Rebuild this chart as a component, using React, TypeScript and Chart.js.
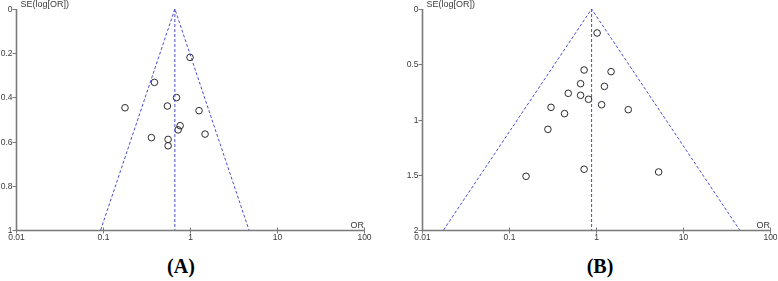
import React, { useEffect, useRef } from "react";
import { Chart, registerables } from "chart.js";

Chart.register(...registerables);

// ---------- data ----------
const xTickValues = [0.01, 0.1, 1, 10, 100];
const xTickLabels = ["0.01", "0.1", "1", "10", "100"];

const orA = [1.0, 0.39, 0.7, 0.179, 0.55, 1.27, 0.77, 0.73, 1.49, 0.36, 0.56, 0.56];
const seA = [0.219, 0.332, 0.401, 0.447, 0.439, 0.46, 0.528, 0.547, 0.566, 0.582, 0.59, 0.619];
const funnelOrA = [0.094, 0.67, 4.76];
const funnelSeA = [1, 0, 1];
const pooledOrA = 0.67;
const yTickValuesA = [0, 0.2, 0.4, 0.6, 0.8, 1];
const yTickLabelsA = ["0", "0.2", "0.4", "0.6", "0.8", "1"];

const orB = [1.03, 0.73, 1.49, 0.665, 1.25, 0.48, 0.665, 0.82, 1.16, 0.304, 2.35, 0.435, 0.28, 0.73, 5.25, 0.157];
const seB = [0.217, 0.552, 0.567, 0.676, 0.7, 0.763, 0.781, 0.817, 0.866, 0.89, 0.911, 0.947, 1.089, 1.45, 1.475, 1.514];
const funnelOrB = [0.0177, 0.89, 44.8];
const funnelSeB = [2, 0, 2];
const pooledOrB = 0.89;
const yTickValuesB = [0, 0.5, 1, 1.5, 2];
const yTickLabelsB = ["0", "0.5", "1", "1.5", "2"];

const yTitle = "SE(log[OR])";
const xTitle = "OR";

// ---------- styling ----------
const AXIS_COLOR = "#7a7a7a";
const TEXT_COLOR = "#3a3a3a";
const FUNNEL_COLOR = "#4b4bd2";
const FONT = "'Liberation Sans', Arial, sans-serif";

const axesPlugin = {
  id: "funnelAxes",
  afterDraw(chart: any, _args: any, opts: any) {
    const { ctx, chartArea: a, scales } = chart;
    const x = scales.x;
    const y = scales.y;
    ctx.save();
    ctx.strokeStyle = AXIS_COLOR;
    ctx.lineWidth = 1.6;
    const ax = Math.round(a.left) + 0.5;
    const ay = Math.round(a.bottom) + 0.5;
    ctx.beginPath();
    ctx.moveTo(ax, a.top);
    ctx.lineTo(ax, ay);
    ctx.lineTo(a.right, ay);
    ctx.stroke();

    ctx.lineWidth = 1;
    ctx.fillStyle = TEXT_COLOR;
    ctx.font = `8.5px ${FONT}`;
    ctx.textAlign = "right";
    ctx.textBaseline = "middle";
    opts.yTicks.forEach((v: number, i: number) => {
      const py = Math.round(y.getPixelForValue(v)) + 0.5;
      ctx.beginPath();
      ctx.moveTo(ax - 4, py);
      ctx.lineTo(ax, py);
      ctx.stroke();
      ctx.fillText(opts.yLabels[i], ax - 4, py);
    });
    ctx.textAlign = "center";
    ctx.textBaseline = "middle";
    opts.xTicks.forEach((v: number, i: number) => {
      const px = Math.round(x.getPixelForValue(v)) + 0.5;
      ctx.beginPath();
      ctx.moveTo(px, ay - 3);
      ctx.lineTo(px, ay + 3);
      ctx.stroke();
      ctx.fillText(opts.xLabels[i], px, ay + 7.5);
    });
    ctx.font = `9px ${FONT}`;
    ctx.textAlign = "left";
    ctx.textBaseline = "middle";
    ctx.fillText(opts.yTitle, ax + 4, a.top - 4);
    ctx.textAlign = "right";
    ctx.fillText(opts.xTitle, a.right, ay - 5);
    ctx.restore();
  },
};

type PanelProps = {
  or: number[];
  se: number[];
  funnelOr: number[];
  funnelSe: number[];
  pooled: number;
  yMax: number;
  yTicks: number[];
  yLabels: string[];
  padding: { left: number; right: number; top: number; bottom: number };
  width: number;
  height: number;
};

function FunnelPanel(p: PanelProps) {
  const ref = useRef<HTMLCanvasElement>(null);
  useEffect(() => {
    if (!ref.current) return;
    const points = p.or.map((v, i) => ({ x: v, y: p.se[i] }));
    const funnel = p.funnelOr.map((v, i) => ({ x: v, y: p.funnelSe[i] }));
    const vertical = [
      { x: p.pooled, y: 0 },
      { x: p.pooled, y: p.yMax },
    ];
    const chart = new Chart(ref.current, {
      type: "scatter",
      data: {
        datasets: [
          {
            data: funnel,
            showLine: true,
            borderColor: FUNNEL_COLOR,
            borderWidth: 1,
            borderDash: [3, 2],
            pointRadius: 0,
            fill: false,
          },
          {
            data: vertical,
            showLine: true,
            borderColor: FUNNEL_COLOR,
            borderWidth: 1,
            borderDash: [3, 2],
            pointRadius: 0,
            fill: false,
          },
          {
            data: points,
            showLine: false,
            pointStyle: "circle",
            pointRadius: 3.3,
            borderWidth: 1,
            borderColor: "#2a2a2a",
            backgroundColor: "rgba(0,0,0,0)",
          },
        ],
      } as any,
      options: {
        animation: false,
        responsive: false,
        maintainAspectRatio: false,
        devicePixelRatio: 1,
        layout: { padding: p.padding },
        plugins: {
          legend: { display: false },
          tooltip: { enabled: false },
          funnelAxes: {
            yTicks: p.yTicks,
            yLabels: p.yLabels,
            xTicks: xTickValues,
            xLabels: xTickLabels,
            yTitle,
            xTitle,
          },
        } as any,
        scales: {
          x: { type: "logarithmic", min: 0.01, max: 100, display: false },
          y: { type: "linear", min: 0, max: p.yMax, reverse: true, display: false },
        },
      },
      plugins: [axesPlugin],
    });
    return () => chart.destroy();
  }, []);
  return (
    <canvas
      ref={ref}
      width={p.width}
      height={p.height}
      style={{ width: p.width, height: p.height, display: "block" }}
    />
  );
}

export default function App() {
  const labelStyle: React.CSSProperties = {
    position: "absolute",
    top: 256,
    width: 80,
    textAlign: "center",
    fontFamily: "'Liberation Serif', 'DejaVu Serif', serif",
    fontWeight: 700,
    fontSize: 20,
    lineHeight: "20px",
    color: "#000",
  };
  return (
    <div
      style={{
        position: "fixed",
        left: 0,
        top: 0,
        width: 778,
        height: 281,
        background: "#fff",
        overflow: "hidden",
      }}
    >
      <div style={{ position: "absolute", left: 0, top: 0 }}>
        <FunnelPanel
          or={orA}
          se={seA}
          funnelOr={funnelOrA}
          funnelSe={funnelSeA}
          pooled={pooledOrA}
          yMax={1}
          yTicks={yTickValuesA}
          yLabels={yTickLabelsA}
          padding={{ left: 16, right: 25, top: 9, bottom: 15 }}
          width={389}
          height={245}
        />
      </div>
      <div style={{ position: "absolute", left: 389, top: 0 }}>
        <FunnelPanel
          or={orB}
          se={seB}
          funnelOr={funnelOrB}
          funnelSe={funnelSeB}
          pooled={pooledOrB}
          yMax={2}
          yTicks={yTickValuesB}
          yLabels={yTickLabelsB}
          padding={{ left: 33, right: 8, top: 9, bottom: 15 }}
          width={389}
          height={245}
        />
      </div>
      <div style={{ ...labelStyle, left: 181 - 40 }}>(A)</div>
      <div style={{ ...labelStyle, left: 600 - 40 }}>(B)</div>
    </div>
  );
}
